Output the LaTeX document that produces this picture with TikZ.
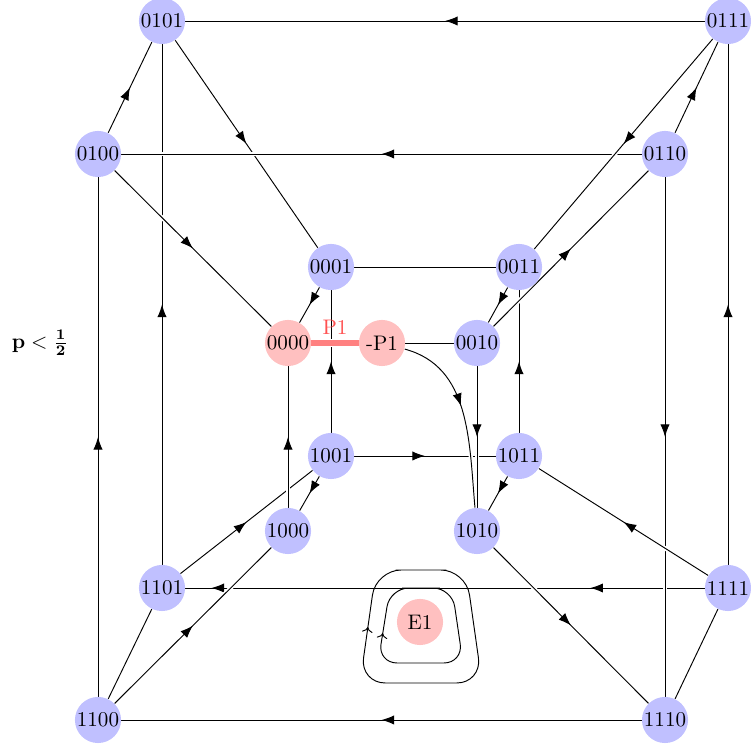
\documentclass[tikz,border=0pt]{standalone}
\usetikzlibrary{arrows.meta,decorations.markings,calc}
\pgfdeclarelayer{bg}
\pgfsetlayers{bg,main}
\definecolor{nblue}{RGB}{192,192,255}
\definecolor{npink}{RGB}{255,192,192}
\definecolor{pline}{RGB}{255,128,128}
\definecolor{plabel}{RGB}{255,80,80}
\newcommand{\plabtext}{$\mathbf{p}<\frac{\mathbf{1}}{\mathbf{2}}$}
\begin{document}
\begin{tikzpicture}[x=0.475pt,y=0.475pt,
  st/.style={circle,inner sep=0pt,minimum size=21.9pt,fill=nblue},
  sp/.style={st,fill=npink},
  e/.style={line width=0.45pt,preaction={draw=white,line width=2pt,shorten <=4pt,shorten >=4pt}},
  mid/.style={postaction={decorate,decoration={markings,mark=at position #1 with {\arrow{Latex[length=6pt,width=4.4pt]}}}}},
  mid/.default=0.5,
  midtwo/.style={postaction={decorate,decoration={markings,
     mark=at position 0.22 with {\arrow{Latex[length=6pt,width=4.4pt]}},
     mark=at position 0.95 with {\arrow{Latex[length=6pt,width=4.4pt]}}}}},
  loopline/.style={line width=0.45pt,postaction={decorate,decoration={markings,mark=at position #1 with {\arrow{To[length=2.5pt,width=5pt]}}}}}
]
\path[use as bounding box] (0,0) rectangle (751,-747);
% nodes
\node[st] (n0101) at (162,-21) {0101};
\node[st] (n0111) at (728,-21) {0111};
\node[st] (n0100) at (98,-154) {0100};
\node[st] (n0110) at (665,-154) {0110};
\node[st] (n0001) at (331,-267) {0001};
\node[st] (n0011) at (519,-267) {0011};
\node[sp] (n0000) at (288,-343) {0000};
\node[sp] (nmP1) at (382,-343) {-P1};
\node[st] (n0010) at (477,-343) {0010};
\node[st] (n1001) at (331,-456) {1001};
\node[st] (n1011) at (519,-456) {1011};
\node[st] (n1000) at (288,-531) {1000};
\node[st] (n1010) at (477,-531) {1010};
\node[st] (n1101) at (162,-588) {1101};
\node[st] (n1111) at (728,-588) {1111};
\node[sp] (nE1) at (420,-622) {E1};
\node[st] (n1100) at (98,-720) {1100};
\node[st] (n1110) at (665,-720) {1110};
\node (plab) at (40,-343) {\plabtext};
\begin{pgfonlayer}{bg}
% group 1 (lower)
\draw[e,mid] (n1101) -- (n0101);
\draw[e,mid] (n0101) -- (n0001);
\draw[e,midtwo] (n1111) -- (n1101);
\draw[e,mid] (n1001) -- (n1011);
\draw[e,mid] (n1101) -- (n1001);
\draw[e,mid] (n1001) -- (n0001);
\draw[e,mid] (n1011) -- (n0011);
% group 2
\draw[e,mid] (n0110) -- (n0100);
\draw[e,mid] (n0100) -- (n0000);
\draw[e,mid] (n1100) -- (n1000);
\draw[e,mid] (n0110) -- (n1110);
\draw[e,mid] (n1010) -- (n1110);
\draw[e,mid] (n0010) -- (n1010);
\draw[e,mid=0.45] (nmP1) to[out=-15,in=95] (n1010);
\draw[e,mid] (n1000) -- (n0000);
\draw[e,mid] (n0111) -- (n0011);
\draw[e,mid] (n0010) -- (n0110);
\draw[e,mid] (n1111) -- (n1011);
% group 3
\draw[e,mid] (n0111) -- (n0101);
\draw[e,mid] (n0100) -- (n0101);
\draw[e,mid] (n0110) -- (n0111);
\draw[e,mid] (n1100) -- (n0100);
\draw[e,mid] (n1111) -- (n0111);
\draw[e,mid] (n1110) -- (n1100);
\draw[e] (n1100) -- (n1101);
\draw[e] (n1110) -- (n1111);
\draw[e] (n0001) -- (n0011);
\draw[e,mid] (n0001) -- (n0000);
\draw[e,mid] (n0011) -- (n0010);
\draw[e] (nmP1) -- (n0010);
\draw[e,mid] (n1001) -- (n1000);
\draw[e,mid] (n1011) -- (n1010);
% P1 edge
\draw[line width=2.4pt,pline,preaction={draw=white,line width=4pt}] (n0000) -- node[above=1pt,text=plabel,inner sep=2pt] (lP1) {P1} (nmP1);
% loops around E1
\draw[loopline=0.69,rounded corners=12pt] (421,-570) -- (466,-570) -- (482,-683) -- (360,-683) -- (376,-570) -- cycle;
\draw[loopline=0.65,rounded corners=9pt] (421,-588) -- (452,-588) -- (463,-663) -- (378,-663) -- (390,-588) -- cycle;
\end{pgfonlayer}
\end{tikzpicture}
\end{document}
